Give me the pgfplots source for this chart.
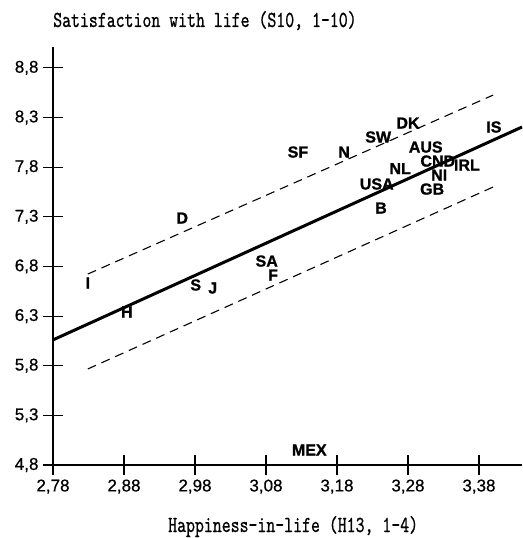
\documentclass[border=0pt]{standalone}
\usepackage{fontspec}
\setmainfont{Liberation Sans}
\newfontfamily\heavyfont{Liberation Sans Bold}[FakeBold=1.2]
\newfontfamily\tickfont{Liberation Sans}[FakeBold=0.6]
\newfontfamily\ttheavy{lmmono10-regular.otf}[FakeBold=0.8]
\usepackage{graphicx}
\usepackage{pgfplots}
\usepackage{pgfplotstable}
\pgfplotsset{compat=1.18}

\pgfplotstableread{
x y label
2.829 6.633 I
2.884 6.341 H
2.962 7.287 D
2.981 6.613 S
3.005 6.582 J
3.081 6.854 SA
3.090 6.713 F
3.125 7.952 SF
3.190 7.952 N
3.141 4.951 MEX
3.238 8.103 SW
3.280 8.244 DK
3.305 8.002 AUS
3.322 7.861 CND
3.269 7.785 NL
3.236 7.630 USA
3.324 7.720 NI
3.363 7.821 IRL
3.314 7.579 GB
3.242 7.388 B
3.401 8.204 IS
}\countries

\begin{document}
\begin{tikzpicture}
\useasboundingbox (-53pt,-73pt) rectangle (469pt,465pt);
\begin{axis}[
  at={(0pt,0pt)}, anchor=south west,
  scale only axis, width=469pt, height=418pt,
  xmin=2.78, xmax=3.4406, ymin=4.8, ymax=9.01,
  axis lines*=left,
  axis line style={line width=1.1pt},
  xtick align=center, ytick align=center,
  major tick length=20pt,
  tick style={line width=1.1pt, black, major tick length=20pt},
  xtick={2.78,2.88,2.98,3.08,3.18,3.28,3.38},
  xticklabels={{2,78},{2,88},{2,98},{3,08},{3,18},{3,28},{3,38}},
  ytick={4.8,5.3,5.8,6.3,6.8,7.3,7.8,8.3,8.8},
  yticklabels={{4,8},{5,3},{5,8},{6,3},{6,8},{7,3},{7,8},{8,3},{8,8}},
  ticklabel style={font=\tickfont\fontsize{17}{19}\selectfont},
  xticklabel style={yshift=-1pt},
  yticklabel style={xshift=-1pt},
  clip=false,
]
\addplot[only marks, mark=none, nodes near coords, point meta=explicit symbolic,
  nodes near coords style={anchor=center, inner sep=0pt, font=\heavyfont\fontsize{16}{18}\selectfont}]
  table[x=x, y=y, meta=label] {\countries};
\addplot[line width=3pt, black] coordinates {(2.78,6.06) (3.4406,8.204)};
\addplot[line width=1.1pt, black, dash pattern=on 9pt off 6pt] coordinates {(2.829,6.723) (3.400,8.526)};
\addplot[line width=1.1pt, black, dash pattern=on 9pt off 6pt] coordinates {(2.829,5.767) (3.400,7.600)};
\end{axis}
\node[anchor=base west, inner sep=0pt] at (0pt,438pt) {\scalebox{1}[1.35]{\ttheavy\fontsize{17}{20}\selectfont Satisfaction with life (S10, 1-10)}};
\node[anchor=base west, inner sep=0pt] at (115pt,-67pt) {\scalebox{1}[1.35]{\ttheavy\fontsize{17}{20}\selectfont Happiness-in-life (H13, 1-4)}};
\end{tikzpicture}
\end{document}
